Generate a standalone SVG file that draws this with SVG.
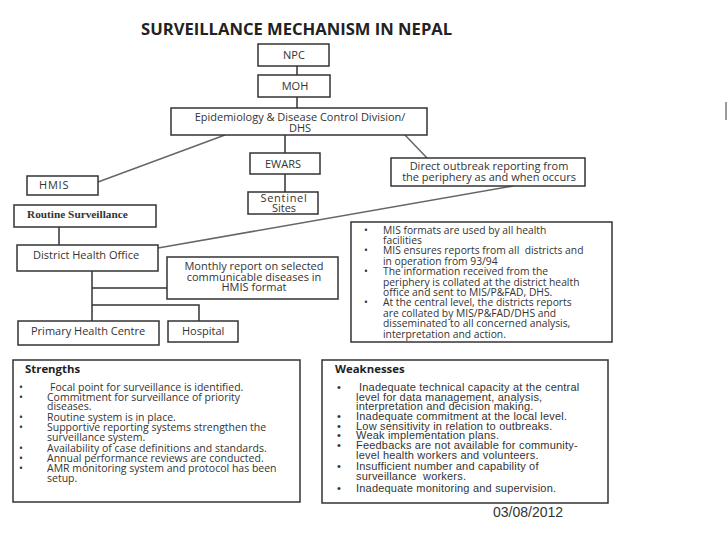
<svg xmlns="http://www.w3.org/2000/svg" width="728" height="546" viewBox="0 0 728 546">
<style>
.box{fill:#fff;stroke:#333;stroke-width:1.5}
.wire{stroke:#333;stroke-width:1.5;fill:none}
.diag{stroke:#666;stroke-width:1.5;fill:none}
.t{font-family:"Open Sans","Liberation Sans",sans-serif;font-size:11px;fill:#333}
.c{text-anchor:middle}
.m{font-family:"Open Sans","Liberation Sans",sans-serif;font-size:10.3px;fill:#333}
.s{font-family:"Open Sans","Liberation Sans",sans-serif;font-size:10.5px;fill:#333}
.w{font-family:"Liberation Sans",Arial,sans-serif;font-size:11px;letter-spacing:0.2px;fill:#333}
.h{font-family:"Open Sans","Liberation Sans",sans-serif;font-size:11.4px;font-weight:bold;fill:#222}
</style>
<rect width="728" height="546" fill="#fff"/>
<text x="141" y="35" font-family="'Open Sans','Liberation Sans',sans-serif" font-size="16.6" font-weight="bold" fill="#222">SURVEILLANCE MECHANISM IN NEPAL</text>
<rect x="725" y="102" width="2" height="18" fill="#999"/>

<g id="connectors">
<line class="wire" x1="297" y1="66" x2="297" y2="75"/>
<line class="wire" x1="297" y1="97" x2="297" y2="108"/>
<line class="wire" x1="285" y1="135" x2="285" y2="153"/>
<line class="wire" x1="285" y1="174" x2="285" y2="192"/>
<line class="diag" x1="225" y1="135" x2="98" y2="182"/>
<line class="diag" x1="405" y1="135" x2="427" y2="158"/>
<line class="diag" x1="158" y1="248" x2="513" y2="186"/>
<line class="wire" x1="59" y1="227" x2="59" y2="245"/>
<line class="wire" x1="92" y1="271" x2="92" y2="321"/>
<line class="wire" x1="92" y1="288" x2="167" y2="288"/>
<polyline class="wire" points="92,305 199,305 199,321"/>
</g>

<g id="npc"><rect class="box" x="258" y="44" width="71" height="22"/><text class="t c" x="294" y="59">NPC</text></g>
<g id="moh"><rect class="box" x="258" y="75" width="72" height="22"/><text class="t c" x="295" y="90" font-size="12">MOH</text></g>
<g id="edcd"><rect class="box" x="171" y="108" width="256" height="27"/><text class="t c" x="300" y="121" font-size="11.3">Epidemiology &amp; Disease Control Division/</text><text class="t c" x="300" y="131.5" font-size="11.3">DHS</text></g>
<g id="ewars"><rect class="box" x="250" y="153" width="70" height="21"/><text class="t c" x="283" y="167.5" font-size="11.8">EWARS</text></g>
<g id="sentinel"><rect class="box" x="248" y="192" width="70" height="22"/><text class="t c" x="284" y="201.5" font-size="10" letter-spacing="0.7">Sentinel</text><text class="t c" x="284" y="211.5" font-size="10">Sites</text></g>
<g id="direct"><rect class="box" x="391" y="158" width="194" height="28"/><text class="t c" x="489" y="170" font-size="10.8">Direct outbreak reporting from</text><text class="t c" x="489" y="181" font-size="10.8">the periphery as and when occurs</text></g>
<g id="hmis"><rect class="box" x="27" y="176" width="71" height="19"/><text class="t" x="39" y="188.5" letter-spacing="0.8">HMIS</text></g>
<g id="routine"><rect class="box" x="14" y="205" width="142" height="22"/><text x="27" y="217.5" font-family="'Liberation Serif','Times New Roman',serif" font-size="11.3" font-weight="bold" fill="#333">Routine Surveillance</text></g>
<g id="dho"><rect class="box" x="17" y="245" width="141" height="26"/><text class="t" x="33" y="259">District Health Office</text></g>
<g id="monthly"><rect class="box" x="167" y="257" width="171" height="42"/><text class="t c" x="254" y="270" font-size="10.6">Monthly report on selected</text><text class="t c" x="254" y="280.5" font-size="10.6">communicable diseases in</text><text class="t c" x="254" y="291" font-size="10.6">HMIS format</text></g>
<g id="phc"><rect class="box" x="18" y="321" width="141" height="24"/><text class="t" x="31" y="334.5">Primary Health Centre</text></g>
<g id="hospital"><rect class="box" x="168" y="321" width="70" height="21"/><text class="t" x="182" y="334.5">Hospital</text></g>

<g id="mis"><rect class="box" x="351" y="222" width="261" height="120"/>
<g class="m">
<text x="364" y="233.5">•</text><text x="383" y="233.5">MIS formats are used by all health</text>
<text x="383" y="243.9">facilities</text>
<text x="364" y="254.3">•</text><text x="383" y="254.3">MIS ensures reports from all&#160; districts and</text>
<text x="383" y="264.7">in operation from 93/94</text>
<text x="364" y="275.1">•</text><text x="383" y="275.1">The information received from the</text>
<text x="383" y="285.5">periphery is collated at the district health</text>
<text x="383" y="295.9">office and sent to MIS/P&amp;FAD, DHS.</text>
<text x="364" y="306.3">•</text><text x="383" y="306.3">At the central level, the districts reports</text>
<text x="383" y="316.7">are collated by MIS/P&amp;FAD/DHS and</text>
<text x="383" y="327.1">disseminated to all concerned analysis,</text>
<text x="383" y="337.5">interpretation and action.</text>
</g></g>

<g id="strengths"><rect class="box" x="13" y="360" width="287" height="142"/>
<text class="h" x="25" y="373">Strengths</text>
<g class="s">
<text x="19" y="390.5">•</text><text x="50" y="390.5">Focal point for surveillance is identified.</text>
<text x="19" y="400.5">•</text><text x="47" y="400.5">Commitment for surveillance of priority</text>
<text x="47" y="410">diseases.</text>
<text x="19" y="420.5">•</text><text x="47" y="420.5">Routine system is in place.</text>
<text x="19" y="430.5">•</text><text x="47" y="430.5">Supportive reporting systems strengthen the</text>
<text x="47" y="440.5">surveillance system.</text>
<text x="19" y="451.5">•</text><text x="47" y="451.5">Availability of case definitions and standards.</text>
<text x="19" y="461.5">•</text><text x="47" y="461.5">Annual performance reviews are conducted.</text>
<text x="19" y="471.5">•</text><text x="47" y="471.5">AMR monitoring system and protocol has been</text>
<text x="47" y="481.5">setup.</text>
</g></g>

<g id="weaknesses"><rect class="box" x="322" y="360" width="286" height="143"/>
<text class="h" x="335" y="373">Weaknesses</text>
<g class="w">
<text x="337" y="390.5">•</text><text x="359" y="390.5">Inadequate technical capacity at the central</text>
<text x="356" y="400.5">level for data management, analysis,</text>
<text x="356" y="410">interpretation and decision making.</text>
<text x="337" y="419.5">•</text><text x="356" y="419.5">Inadequate commitment at the local level.</text>
<text x="337" y="429.5">•</text><text x="356" y="429.5">Low sensitivity in relation to outbreaks.</text>
<text x="337" y="438.5">•</text><text x="356" y="438.5">Weak implementation plans.</text>
<text x="337" y="448.5">•</text><text x="356" y="448.5">Feedbacks are not available for community-</text>
<text x="356" y="458.5">level health workers and volunteers.</text>
<text x="337" y="469.5">•</text><text x="356" y="469.5">Insufficient number and capability of</text>
<text x="356" y="479.5">surveillance&#160; workers.</text>
<text x="337" y="491.5">•</text><text x="356" y="491.5">Inadequate monitoring and supervision.</text>
</g></g>

<text x="493" y="517" font-family="'Liberation Sans',Arial,sans-serif" font-size="14" fill="#333">03/08/2012</text>
</svg>
